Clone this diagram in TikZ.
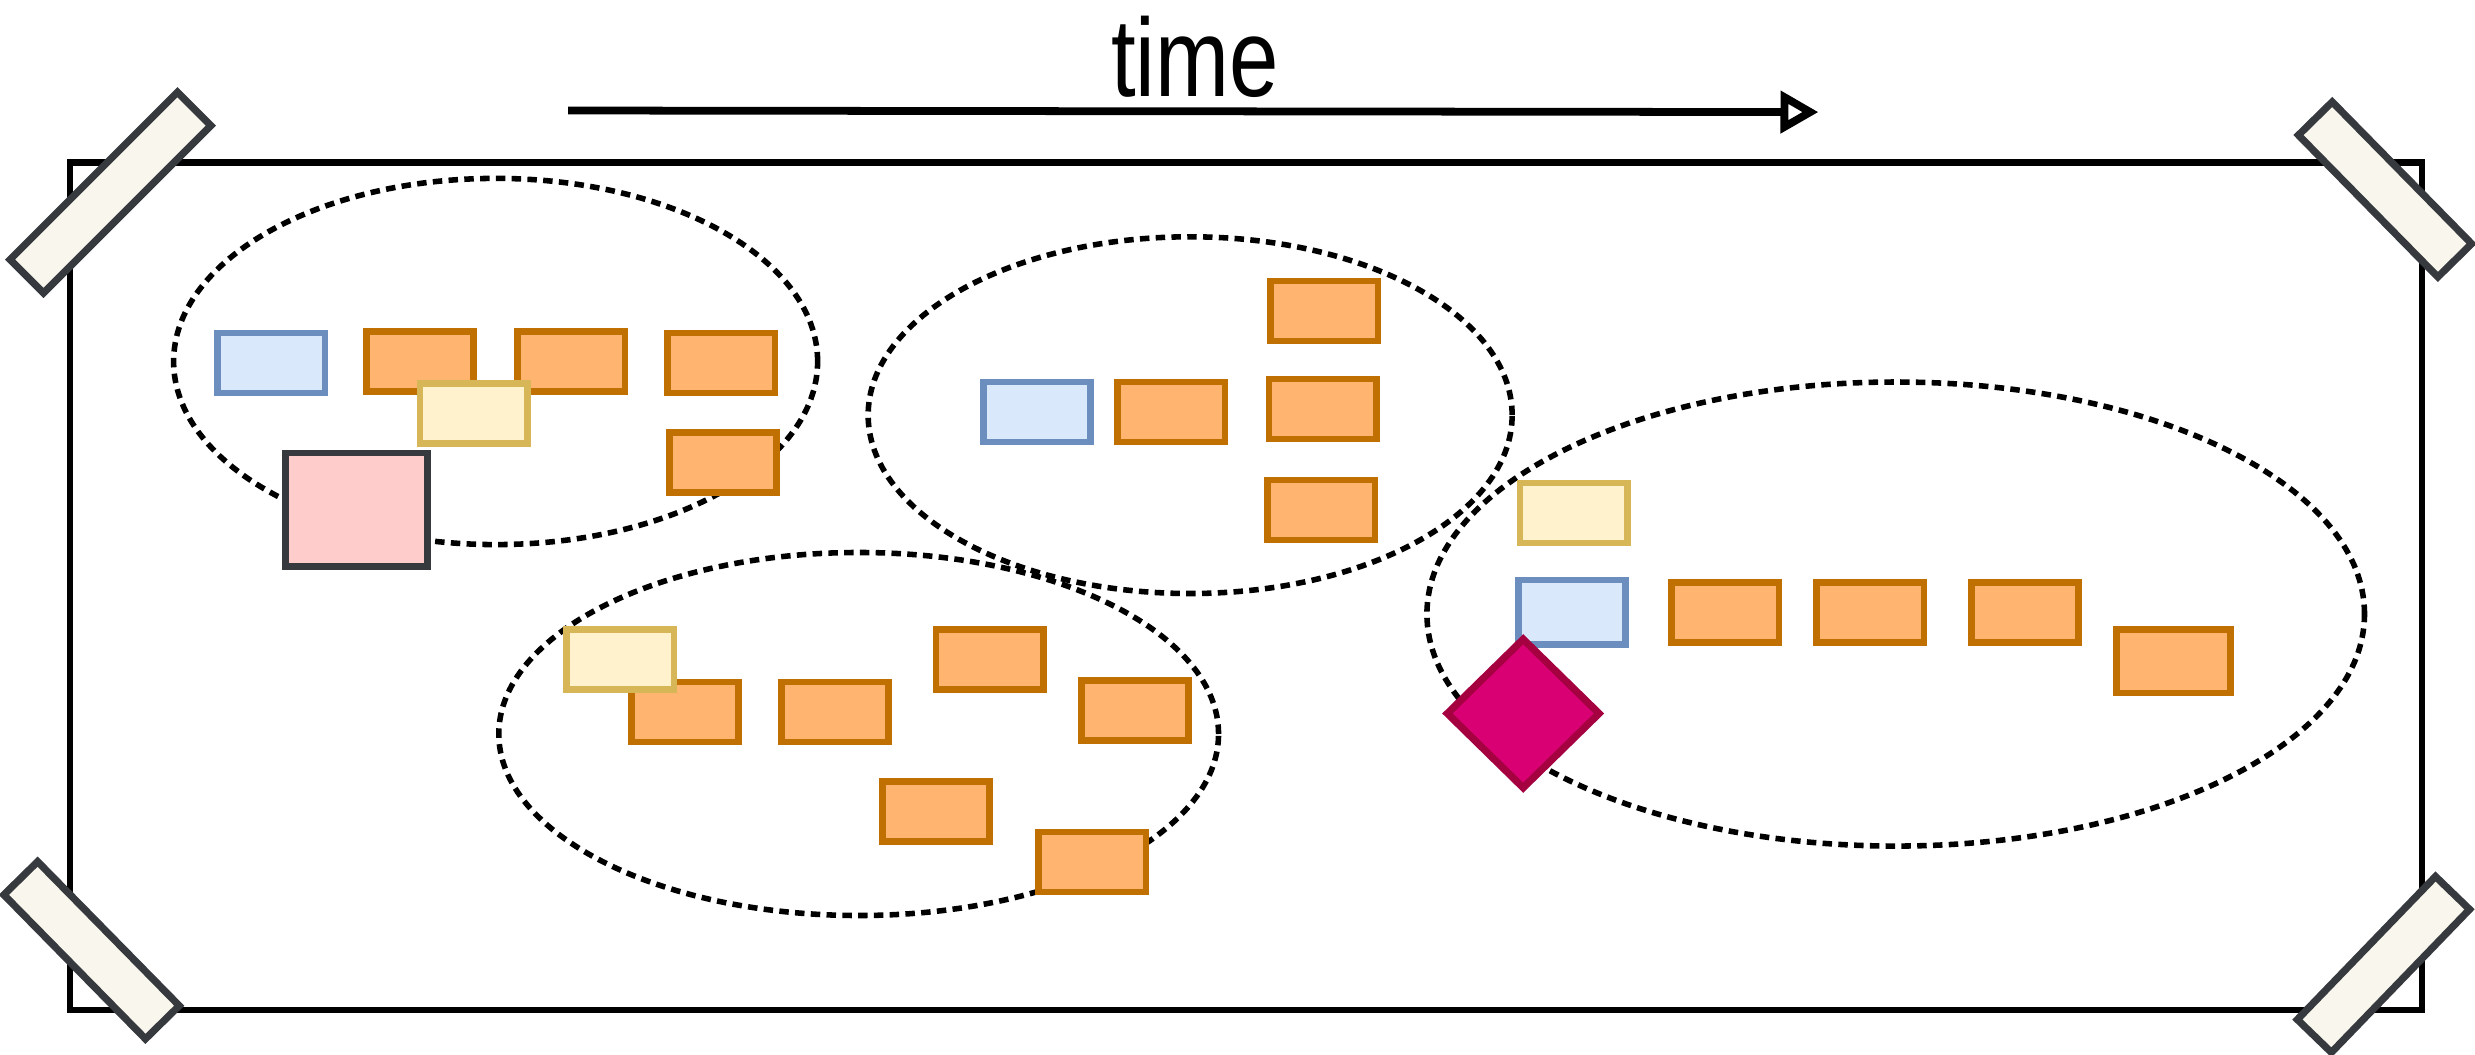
\documentclass[tikz,border=0pt]{standalone}
\usepackage{fontspec}
\newfontfamily\sketchfont{Liberation Sans}
\usetikzlibrary{shapes.geometric,arrows.meta}
\definecolor{evfill}{HTML}{FFB570}
\definecolor{evline}{HTML}{C07000}
\definecolor{cmdfill}{HTML}{DAE8FC}
\definecolor{cmdline}{HTML}{6C8EBF}
\definecolor{aggfill}{HTML}{FFF2CC}
\definecolor{aggline}{HTML}{D6B656}
\definecolor{hotfill}{HTML}{FFCCCC}
\definecolor{darkline}{HTML}{36393D}
\definecolor{polfill}{HTML}{D80073}
\definecolor{polline}{HTML}{A50040}
\definecolor{tapefill}{HTML}{F9F7ED}
\tikzset{
    sticky/.style={draw, line width=1.2pt, inner sep=0pt, minimum width=6.8mm, minimum height=3.8mm},
    devent/.style={sticky, fill=evfill, draw=evline},
    command/.style={sticky, fill=cmdfill, draw=cmdline},
    aggregate/.style={sticky, fill=aggfill, draw=aggline},
    hotspot/.style={sticky, fill=hotfill, draw=darkline, minimum width=9mm, minimum height=7.2mm},
    policy/.style={diamond, draw=polline, fill=polfill, line width=1.3pt, inner sep=0pt, minimum width=9.8mm, minimum height=9.6mm},
    phase/.style={ellipse, draw, line width=1pt, dash pattern=on 0.6mm off 0.4mm, inner sep=0pt},
    tape/.style={draw=darkline, fill=tapefill, line width=1.3pt, inner sep=0pt, minimum height=3mm},
}
\begin{document}
\begin{tikzpicture}[x=0.1mm, y=-0.1mm]
    \useasboundingbox (0,0) rectangle (1568,668);
    \node[draw, line width=1.2pt, inner sep=0pt, minimum width=149mm, minimum height=53.7mm] (board) at (789.4,371.3) {};

    \node[phase, minimum width=40.8mm, minimum height=23.2mm] (ph1) at (314,229) {};
    \node[phase, minimum width=40.8mm, minimum height=22.6mm] (ph2) at (754,263) {};
    \node[phase, minimum width=45.6mm, minimum height=23mm] (ph3) at (544,465) {};
    \node[phase, minimum width=59.4mm, minimum height=29.4mm] (ph4) at (1201,389) {};

    \node[command] (c1) at (172,230) {};
    \node[devent] (e11) at (266,229) {};
    \node[devent] (e12) at (362,229) {};
    \node[devent] (e13) at (457,230) {};
    \node[devent] (e14) at (458,293) {};
    \node[aggregate] (a1) at (300,262) {};
    \node[hotspot] (h1) at (226,323) {};

    \node[devent] (e21) at (839,197) {};
    \node[command] (c2) at (657,261) {};
    \node[devent] (e22) at (742,261) {};
    \node[devent] (e23) at (838,259) {};
    \node[devent] (e24) at (837,323) {};

    \node[devent] (e31) at (434,451) {};
    \node[devent] (e32) at (529,451) {};
    \node[devent] (e33) at (627,418) {};
    \node[devent] (e34) at (719,450) {};
    \node[devent] (e35) at (593,514) {};
    \node[devent] (e36) at (692,546) {};
    \node[aggregate] (a3) at (393,418) {};

    \node[aggregate] (a4) at (997,325) {};
    \node[command, minimum height=4.1mm] (c4) at (996,388) {};
    \node[devent] (e41) at (1093,388) {};
    \node[devent] (e42) at (1185,388) {};
    \node[devent] (e43) at (1283,388) {};
    \node[devent, minimum width=7.2mm, minimum height=4mm] (e44) at (1377,419) {};
    \node[policy] (p4) at (965,452) {};

    \node[tape, minimum width=15mm, rotate=45] (tapeTL) at (70,122) {};
    \node[tape, minimum width=12.6mm, rotate=-45.5] (tapeTR) at (1511,120) {};
    \node[tape, minimum width=12.8mm, rotate=-45.5] (tapeBL) at (58,602) {};
    \node[tape, minimum width=12.6mm, rotate=46] (tapeBR) at (1510,611) {};

    \coordinate (t0) at (360,70);
    \coordinate (t1) at (1152,71);
    \draw[line width=1.4pt, -{Triangle[open, length=2.4mm, width=2.6mm]}] (t0) -- (t1);
    \node[anchor=base, inner sep=0pt, font=\sketchfont\fontsize{20}{20}\selectfont, xscale=0.8] (tlabel) at (757,61) {time};
\end{tikzpicture}
\end{document}
